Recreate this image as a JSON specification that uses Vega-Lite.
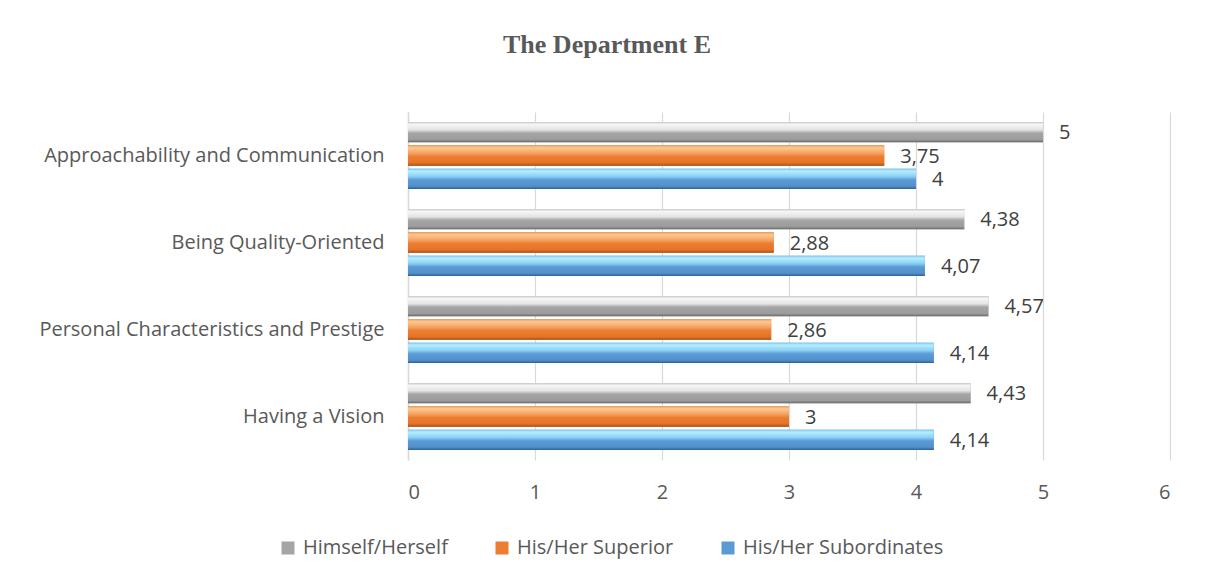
{
  "$schema": "https://vega.github.io/schema/vega-lite/v6.json",
  "width": 762,
  "height": 348,
  "autosize": {"type": "none"},
  "padding": {"left": 408, "top": 112, "right": 35, "bottom": 119},
  "background": "white",
  "config": {
    "view": {"stroke": null},
    "locale": {"number": {"decimal": ",", "thousands": ".", "grouping": [3], "currency": ["", " €"]}},
    "font": "Open Sans"
  },
  "title": {
    "text": "The Department E",
    "font": "Liberation Serif",
    "fontSize": 26,
    "fontWeight": "bold",
    "color": "#595959",
    "anchor": "middle",
    "dx": -182,
    "offset": 54
  },
  "data": {
    "values": [
      {"category": "Approachability and Communication", "series": "Himself/Herself", "value": 5},
      {"category": "Approachability and Communication", "series": "His/Her Superior", "value": 3.75},
      {"category": "Approachability and Communication", "series": "His/Her Subordinates", "value": 4},
      {"category": "Being Quality-Oriented", "series": "Himself/Herself", "value": 4.38},
      {"category": "Being Quality-Oriented", "series": "His/Her Superior", "value": 2.88},
      {"category": "Being Quality-Oriented", "series": "His/Her Subordinates", "value": 4.07},
      {"category": "Personal Characteristics and Prestige", "series": "Himself/Herself", "value": 4.57},
      {"category": "Personal Characteristics and Prestige", "series": "His/Her Superior", "value": 2.86},
      {"category": "Personal Characteristics and Prestige", "series": "His/Her Subordinates", "value": 4.14},
      {"category": "Having a Vision", "series": "Himself/Herself", "value": 4.43},
      {"category": "Having a Vision", "series": "His/Her Superior", "value": 3},
      {"category": "Having a Vision", "series": "His/Her Subordinates", "value": 4.14}
    ]
  },
  "encoding": {
    "y": {
      "field": "category",
      "type": "nominal",
      "sort": ["Approachability and Communication", "Being Quality-Oriented", "Personal Characteristics and Prestige", "Having a Vision"],
      "scale": {"paddingInner": 0.23, "paddingOuter": 0.115},
      "axis": {
        "title": null,
        "ticks": false,
        "domain": true,
        "domainColor": "#d9d9d9",
        "domainWidth": 1.5,
        "labelPadding": 24,
        "labelFontSize": 20,
        "labelColor": "#595959",
        "labelFont": "Open Sans",
        "labelLimit": 400
      }
    },
    "yOffset": {
      "field": "series",
      "type": "nominal",
      "sort": ["Himself/Herself", "His/Her Superior", "His/Her Subordinates"],
      "scale": {"domain": ["Himself/Herself", "His/Her Superior", "His/Her Subordinates"], "paddingInner": 0.13, "paddingOuter": 0}
    },
    "x": {
      "field": "value",
      "type": "quantitative",
      "scale": {"domain": [0, 6]},
      "axis": {
        "title": null,
        "values": [0, 1, 2, 3, 4, 5, 6],
        "labelOverlap": false,
        "ticks": false,
        "domain": false,
        "grid": true,
        "gridColor": "#d9d9d9",
        "gridWidth": 1.2,
        "labelPadding": 22,
        "labelFontSize": 20,
        "labelColor": "#595959",
        "labelFont": "Open Sans"
      }
    }
  },
  "layer": [
    {
      "mark": {"type": "bar"},
      "encoding": {
        "color": {
          "field": "series",
          "type": "nominal",
          "scale": {
            "domain": ["Himself/Herself", "His/Her Superior", "His/Her Subordinates"],
            "range": ["#a5a5a5", "#ed7d31", "#5b9bd5"]
          },
          "legend": {
            "title": null,
            "orient": "none",
            "direction": "horizontal",
            "legendX": -130,
            "legendY": 426,
            "symbolType": "square",
            "symbolSize": 169,
            "symbolStrokeWidth": 0,
            "labelFontSize": 20,
            "labelColor": "#595959",
            "labelFont": "Open Sans",
            "labelOffset": 5,
            "labelLimit": 0,
            "columnPadding": 44
          }
        }
      }
    },
    {
      "transform": [{"filter": "datum.series === 'Himself/Herself'"}],
      "mark": {"type": "bar", "color": {"gradient": "linear", "x1": 0, "y1": 0, "x2": 0, "y2": 1, "stops": [
        {"offset": 0, "color": "#c8c8c8"},
        {"offset": 0.12, "color": "#f6f6f6"},
        {"offset": 0.38, "color": "#e4e4e4"},
        {"offset": 0.55, "color": "#a5a5a5"},
        {"offset": 0.86, "color": "#9c9c9c"},
        {"offset": 1, "color": "#6a6a6a"}
      ]}}
    },
    {
      "transform": [{"filter": "datum.series === 'His/Her Superior'"}],
      "mark": {"type": "bar", "color": {"gradient": "linear", "x1": 0, "y1": 0, "x2": 0, "y2": 1, "stops": [
        {"offset": 0, "color": "#eea060"},
        {"offset": 0.12, "color": "#fcc890"},
        {"offset": 0.38, "color": "#f5a262"},
        {"offset": 0.55, "color": "#ed7d31"},
        {"offset": 0.86, "color": "#e57428"},
        {"offset": 1, "color": "#a45216"}
      ]}}
    },
    {
      "transform": [{"filter": "datum.series === 'His/Her Subordinates'"}],
      "mark": {"type": "bar", "color": {"gradient": "linear", "x1": 0, "y1": 0, "x2": 0, "y2": 1, "stops": [
        {"offset": 0, "color": "#7cc4ee"},
        {"offset": 0.12, "color": "#b6eeff"},
        {"offset": 0.38, "color": "#8ad0f5"},
        {"offset": 0.55, "color": "#5b9bd5"},
        {"offset": 0.86, "color": "#5390ca"},
        {"offset": 1, "color": "#2d6096"}
      ]}}
    },
    {
      "mark": {"type": "text", "align": "left", "baseline": "middle", "dx": 16, "dy": 1, "fontSize": 20, "color": "#404040", "font": "Open Sans"},
      "encoding": {
        "text": {"field": "value", "type": "quantitative", "format": "~g"}
      }
    }
  ]
}
